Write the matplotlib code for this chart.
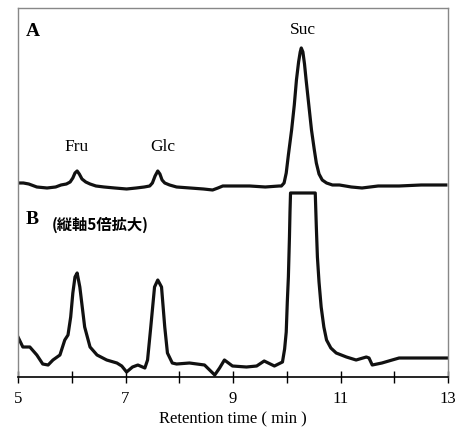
import numpy as np
import matplotlib.pyplot as plt

plt.rcParams['font.family'] = ['Liberation Serif', 'DejaVu Serif']

# chromatogram A (normal scale): retention time (min), detector response (a.u.)
time_a = [5.00, 5.10, 5.20, 5.35, 5.54, 5.70, 5.80, 5.90, 5.97, 6.02, 6.06, 6.10,
          6.14, 6.19, 6.26, 6.34, 6.45, 6.60, 6.80, 7.02, 7.20, 7.35, 7.45, 7.50,
          7.55, 7.60, 7.64, 7.68, 7.73, 7.82, 7.95, 8.20, 8.45, 8.62, 8.72, 8.81,
          9.00, 9.31, 9.60, 9.86, 9.90, 9.95, 9.99, 10.03, 10.09, 10.14, 10.18,
          10.22, 10.25, 10.27, 10.30, 10.33, 10.36, 10.41, 10.46, 10.51, 10.55,
          10.60, 10.66, 10.74, 10.85, 10.98, 11.20, 11.40, 11.70, 12.09, 12.50, 12.96]
resp_a = [194, 194, 193, 190, 189, 190, 192, 193, 195, 199, 204, 206,
          203, 198, 195, 193, 191, 190, 189, 188, 189, 190, 191, 194,
          201, 206, 203, 197, 194, 192, 190, 189, 188, 187, 189, 191,
          191, 191, 190, 191, 191, 194, 204, 222, 247, 272, 297,
          315, 325, 329, 325, 313, 297, 272, 247, 228, 214,
          203, 197, 194, 192, 192, 190, 189, 191, 191, 192, 192]

# chromatogram B (vertical axis x5, Suc clipped)
time_b = [5.00, 5.09, 5.22, 5.35, 5.46, 5.56, 5.65, 5.78, 5.87, 5.93, 5.98, 6.02,
          6.06, 6.10, 6.15, 6.24, 6.34, 6.47, 6.65, 6.84, 6.93, 7.02, 7.13, 7.23,
          7.36, 7.41, 7.47, 7.54, 7.60, 7.67, 7.73, 7.78, 7.87, 7.95, 8.19, 8.47,
          8.66, 8.75, 8.84, 8.99, 9.25, 9.44, 9.58, 9.77, 9.92, 9.96, 9.99, 10.01,
          10.03, 10.05, 10.06, 10.07, 10.53, 10.55, 10.57, 10.60, 10.64, 10.69,
          10.74, 10.82, 10.92, 11.11, 11.29, 11.48, 11.53, 11.59, 11.77, 11.96,
          12.09, 12.65, 12.98]
resp_b = [40, 30, 30, 22, 13, 12, 17, 22, 37, 42, 60, 84,
          100, 104, 90, 50, 30, 22, 17, 14, 11, 5, 10, 12,
          9, 17, 50, 90, 97, 90, 50, 24, 14, 13, 14, 12,
          2, 9, 17, 11, 10, 11, 16, 11, 15, 28, 45, 75,
          100, 140, 165, 184, 184, 150, 120, 95, 70, 50,
          37, 29, 24, 20, 17, 20, 19, 12, 14, 17,
          19, 19, 19]

peak_names = ["Fru", "Glc", "Suc"]
peak_pos = [(6.08, 230), (7.70, 230), (10.30, 347)]

fig = plt.figure(figsize=(4.56, 4.29), dpi=100)
ax = fig.add_axes([0.0395, 0.1212, 0.9430, 0.8602])

ax.plot(time_a, resp_a, color='#111111', lw=2.3, solid_joinstyle='round')
ax.plot(time_b, resp_b, color='#111111', lw=2.3, solid_joinstyle='round')

ax.set_xlim(5, 13)
ax.set_ylim(0, 369)
ax.set_xticks([5, 7, 9, 11, 13])
ax.set_xticks([6, 8, 10, 12], minor=True)
ax.set_yticks([])
ax.tick_params(axis='x', which='both', direction='inout', length=8, width=1,
               labelsize=12, pad=6)
ax.set_xlabel("Retention time ( min )", fontsize=12, labelpad=3)

for side in ['left', 'top', 'right']:
    ax.spines[side].set_color('#888888')
    ax.spines[side].set_linewidth(1.0)
ax.spines['bottom'].set_linewidth(1.2)

for name, (x, y) in zip(peak_names, peak_pos):
    ax.text(x, y, name, ha='center', va='center', fontsize=12.5)

ax.text(5.15, 345, "A", fontsize=14, fontweight='bold', va='center')
ax.text(5.15, 157, "B", fontsize=14, fontweight='bold', va='center')
ax.text(5.62, 152, "(縦軸5倍拡大)", fontsize=11, fontweight='bold', va='center',
        family=['Noto Sans CJK JP', 'DejaVu Sans'])

plt.savefig("out.png", dpi=100)
